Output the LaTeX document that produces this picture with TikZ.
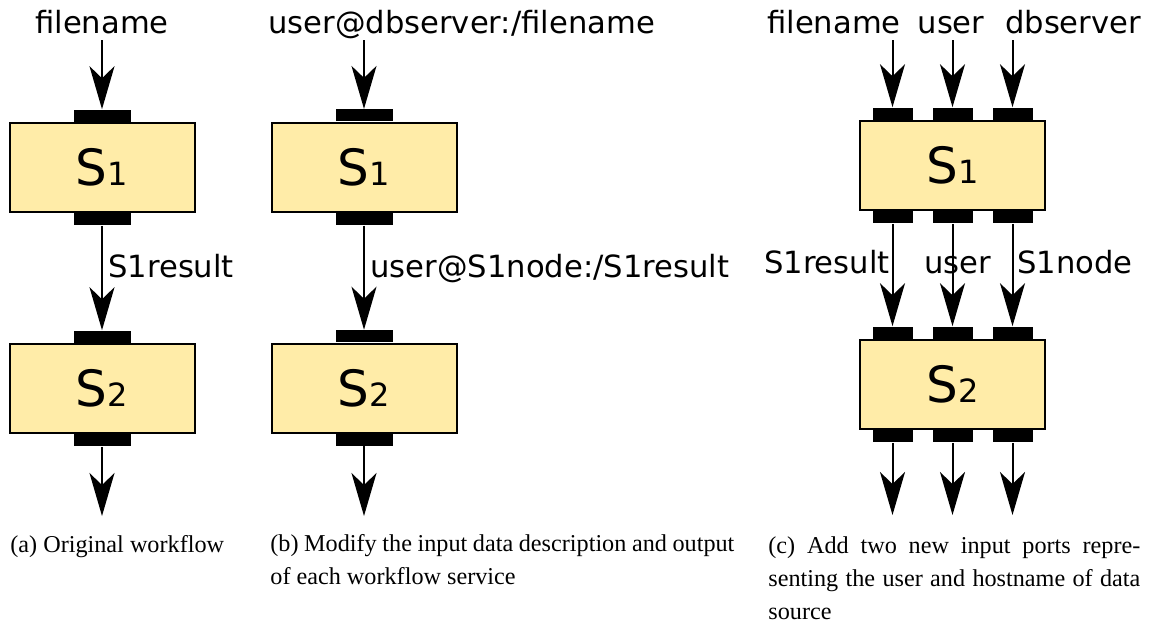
\documentclass[tikz,border=0pt]{standalone}
\usepackage{fontspec}
\setmainfont{Liberation Serif}
\newfontfamily\dejavu{DejaVu Sans}
\usetikzlibrary{arrows.meta,positioning}
\definecolor{svcfill}{RGB}{255,236,168}
\newcommand{\svcname}[2]{{\fontsize{25}{25}\selectfont #1}{\fontsize{16}{16}\selectfont #2}}
\tikzset{
  svc/.style={draw=black, line width=1pt, fill=svcfill, minimum width=92.5pt, minimum height=44.5pt, inner sep=0pt, font=\dejavu},
  port/.style={fill=black, minimum width=28.5pt, minimum height=6pt, inner sep=0pt},
  smallport/.style={port, minimum width=20pt},
  lbl/.style={font=\dejavu\fontsize{15.3}{18}\selectfont, inner sep=0pt},
  flow/.style={line width=1pt, -{Stealth[length=21.5pt, width=12.5pt, inset=6pt]}},
  capt/.style={font=\fontsize{12.1}{16.7}\selectfont, inner sep=0pt, anchor=base west}
}
\begin{document}
\begin{tikzpicture}[x=0.5pt, y=-0.5pt]
			\useasboundingbox (0,0) rectangle (1151,623);
			
			%%%%% (a) original workflow %%%%%
			\node[svc] (a1) at (102,167.5) {\svcname{S}{1}};
			\node[svc] (a2) at (102,388.5) {\svcname{S}{2}};
			\node[port, anchor=south] (a1in) at (a1.north) {};
			\node[port, anchor=north] (a1out) at (a1.south) {};
			\node[port, anchor=south] (a2in) at (a2.north) {};
			\node[port, anchor=north] (a2out) at (a2.south) {};
			
			\node[lbl, anchor=base] (afile) at (102,33) {filename};
			\node[lbl, anchor=base west] (ares) at (108,277) {S1result};
			\coordinate (asrc) at (102,40);
			\coordinate (aend) at (102,516);
			
			\draw[flow] (asrc) -- (a1in.north);
			\draw[flow] (a1out.south) -- (a2in.north);
			\draw[flow] (a2out.south) -- (aend);
			
			\node[capt] (acap) at (10,552) {(a) Original workflow};
			
			%%%%% (b) modified descriptions %%%%%
			\node[svc] (b1) at (364,167.2) {\svcname{S}{1}};
			\node[svc] (b2) at (364,388) {\svcname{S}{2}};
			\node[port, anchor=south] (b1in) at (b1.north) {};
			\node[port, anchor=north] (b1out) at (b1.south) {};
			\node[port, anchor=south] (b2in) at (b2.north) {};
			\node[port, anchor=north] (b2out) at (b2.south) {};
			
			\node[lbl, anchor=base west] (bfile) at (268,33) {user@dbserver:/filename};
			\node[lbl, anchor=base west] (bres) at (370,277) {user@S1node:/S1result};
			\coordinate (bsrc) at (364,40);
			\coordinate (bend) at (364,516);
			
			\draw[flow] (bsrc) -- (b1in.north);
			\draw[flow] (b1out.south) -- (b2in.north);
			\draw[flow] (b2out.south) -- (bend);
			
			\node[capt, text width=232pt, align=justify] (bcap) at (270,551) {(b) Modify the input data description and \mbox{output}\linebreak of each workflow service};
			
			%%%%% (c) extra input ports %%%%%
			\node[svc] (c1) at (952.5,165.5) {\svcname{S}{1}};
			\node[svc] (c2) at (952.5,384.5) {\svcname{S}{2}};
			
			\node[smallport, anchor=south] (c1inA) at ([xshift=-30pt]c1.north) {};
			\node[smallport, anchor=south] (c1inB) at (c1.north) {};
			\node[smallport, anchor=south] (c1inC) at ([xshift=30pt]c1.north) {};
			\node[smallport, anchor=north] (c1outA) at ([xshift=-30pt]c1.south) {};
			\node[smallport, anchor=north] (c1outB) at (c1.south) {};
			\node[smallport, anchor=north] (c1outC) at ([xshift=30pt]c1.south) {};
			\node[smallport, anchor=south] (c2inA) at ([xshift=-30pt]c2.north) {};
			\node[smallport, anchor=south] (c2inB) at (c2.north) {};
			\node[smallport, anchor=south] (c2inC) at ([xshift=30pt]c2.north) {};
			\node[smallport, anchor=north] (c2outA) at ([xshift=-30pt]c2.south) {};
			\node[smallport, anchor=north] (c2outB) at (c2.south) {};
			\node[smallport, anchor=north] (c2outC) at ([xshift=30pt]c2.south) {};
			
			\node[lbl, anchor=base] (cfile) at (834,33) {filename};
			\node[lbl, anchor=base] (cuser) at (951,33) {user};
			\node[lbl, anchor=base] (chost) at (1073,33) {dbserver};
			\node[lbl, anchor=base east] (cres) at (890,273) {S1result};
			\node[lbl, anchor=base] (cuser2) at (957.5,273) {user};
			\node[lbl, anchor=base west] (cnode) at (1017,273) {S1node};
			
			\coordinate (csrcA) at (892.5,40);
			\coordinate (csrcB) at (952.5,40);
			\coordinate (csrcC) at (1012.5,40);
			\coordinate (cendA) at (892.5,515);
			\coordinate (cendB) at (952.5,515);
			\coordinate (cendC) at (1012.5,515);
			
			\draw[flow] (csrcA) -- (c1inA.north);
			\draw[flow] (csrcB) -- (c1inB.north);
			\draw[flow] (csrcC) -- (c1inC.north);
			\draw[flow] (c1outA.south) -- (c2inA.north);
			\draw[flow] (c1outB.south) -- (c2inB.north);
			\draw[flow] (c1outC.south) -- (c2inC.north);
			\draw[flow] (c2outA.south) -- (cendA);
			\draw[flow] (c2outB.south) -- (cendB);
			\draw[flow] (c2outC.south) -- (cendC);
			
			\node[capt, text width=186pt, align=justify] (ccap) at (768,553) {(c) Add two new input ports repre-\linebreak senting the user and hostname of data\linebreak source};
			
			%%%%% END %%%%%
\end{tikzpicture}
\end{document}
